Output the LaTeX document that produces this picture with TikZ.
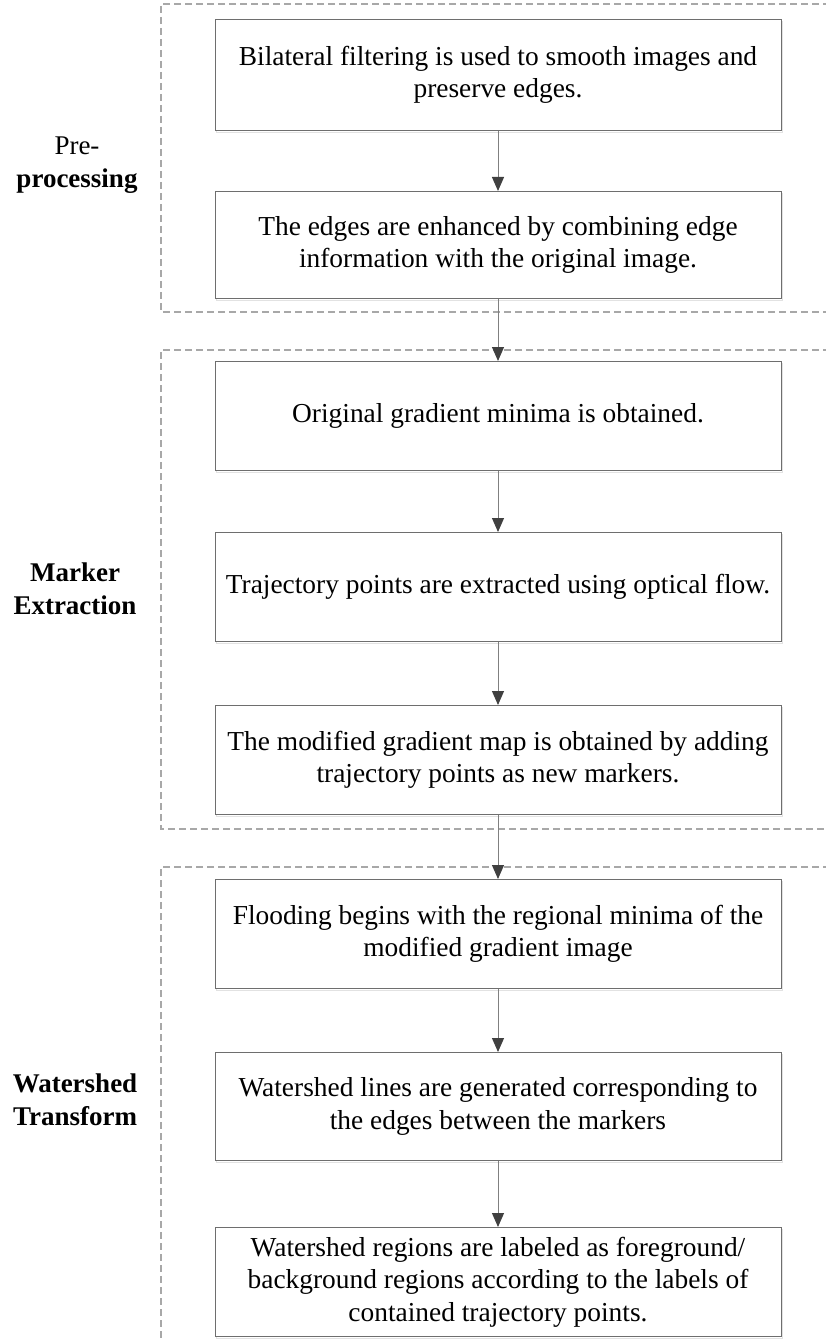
\documentclass[tikz,border=0pt]{standalone}
\usepackage{fontspec}
\setmainfont{Liberation Serif}
\usetikzlibrary{arrows.meta}
\definecolor{framecol}{HTML}{A8A8A8}
\definecolor{boxcol}{HTML}{6E6E6E}
\definecolor{shadowcol}{HTML}{E2E2E2}
\definecolor{arrline}{HTML}{808080}
\definecolor{arrhead}{HTML}{404040}
\tikzset{
  stepbox/.style={draw=boxcol, line width=1pt, fill=white, minimum width=566pt,
    inner sep=0pt, anchor=north, align=center,
    font=\fontsize{27.4}{32.5}\selectfont,
    preaction={draw=shadowcol, line width=1.2pt, transform canvas={xshift=1.8pt,yshift=-1.8pt}}},
  flowarrow/.style={draw=arrline, line width=1pt,
    -{Triangle[width=12pt,length=14pt,fill=arrhead,color=arrhead]}},
  phaseframe/.style={draw=framecol, line width=1.3pt, dash pattern=on 7pt off 4pt},
  phaselabel/.style={align=center, inner sep=0pt, font=\fontsize{27}{33}\selectfont}
}
\begin{document}
\begin{tikzpicture}[x=1pt,y=1pt]
\useasboundingbox (0,0) rectangle (826,-1340);
% dashed phase frames
\draw[phaseframe] (830,-4) -- (161,-4) -- (161,-312) -- (830,-312);
\draw[phaseframe] (830,-350) -- (161,-350) -- (161,-829) -- (830,-829);
\draw[phaseframe] (830,-867) -- (161,-867) -- (161,-1344);
% phase labels
\node[phaselabel] (l1) at (77,-165) {Pre-\\\textbf{processing}};
\node[phaselabel] (l2) at (75,-589) {\textbf{Marker}\\\textbf{Extraction}};
\node[phaselabel] (l3) at (75,-1100) {\textbf{Watershed}\\\textbf{Transform}};
% steps
\node[stepbox, minimum height=111pt] (b1) at (498,-19) {Bilateral filtering is used to smooth images and\\preserve edges.};
\node[stepbox, minimum height=107pt] (b2) at (498,-191) {The edges are enhanced by combining edge\\information with the original image.};
\node[stepbox, minimum height=109pt] (b3) at (498,-361) {Original gradient minima is obtained.};
\node[stepbox, minimum height=109pt] (b4) at (498,-532) {Trajectory points are extracted using optical flow.};
\node[stepbox, minimum height=109pt] (b5) at (498,-705) {The modified gradient map is obtained by adding\\trajectory points as new markers.};
\node[stepbox, minimum height=109pt] (b6) at (498,-879) {Flooding begins with the regional minima of the\\modified gradient image};
\node[stepbox, minimum height=108pt] (b7) at (498,-1052) {Watershed lines are generated corresponding to\\the edges between the markers};
\node[stepbox, minimum height=109pt] (b8) at (498,-1227) {Watershed regions are labeled as foreground/\\background regions according to the labels of\\contained trajectory points.};
% connectors
\draw[flowarrow] (b1.south) -- (b2.north);
\draw[flowarrow] (b2.south) -- (b3.north);
\draw[flowarrow] (b3.south) -- (b4.north);
\draw[flowarrow] (b4.south) -- (b5.north);
\draw[flowarrow] (b5.south) -- (b6.north);
\draw[flowarrow] (b6.south) -- (b7.north);
\draw[flowarrow] (b7.south) -- (b8.north);
\end{tikzpicture}
\end{document}
